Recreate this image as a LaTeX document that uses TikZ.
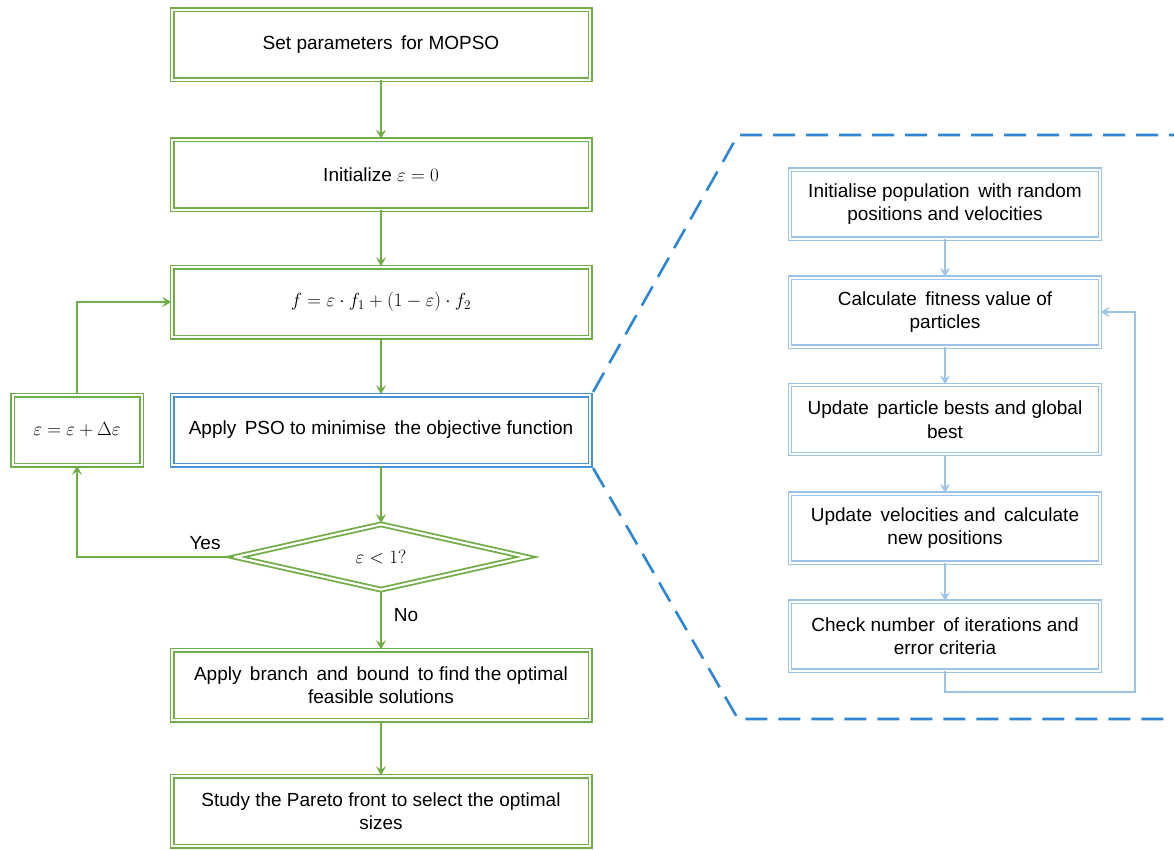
\RequirePackage{fix-cm}
\documentclass[tikz,border=0pt]{standalone}
\usepackage{fontspec}
\setmainfont{Liberation Sans}
\usetikzlibrary{arrows.meta,shapes.geometric}
\definecolor{gr}{RGB}{112,173,71}
\definecolor{bl}{RGB}{74,146,214}
\definecolor{lbl}{RGB}{157,195,230}
\definecolor{dsh}{RGB}{46,134,212}
\tikzset{
  txt/.style={font=\fontsize{19}{23.5}\selectfont},
  gbox/.style={draw=gr,double=white,line width=1.5pt,double distance=2pt,rectangle,minimum width=418pt,minimum height=70pt,align=center,inner sep=0pt,txt},
  bbox/.style={gbox,draw=bl},
  rbox/.style={draw=lbl,double=white,line width=1.3pt,double distance=2pt,rectangle,minimum width=310pt,minimum height=69pt,align=center,inner sep=0pt,txt},
  gdia/.style={draw=gr,double=white,line width=1.8pt,double distance=2.2pt,diamond,minimum width=292pt,minimum height=66pt,inner sep=0pt,txt},
  garrow/.style={draw=gr,line width=2pt,-{Stealth[length=9pt,width=10pt,inset=3.5pt]}},
  barrow/.style={draw=lbl,line width=2pt,-{Stealth[length=9pt,width=10pt,inset=3.5pt]}},
  dashline/.style={draw=dsh,line width=2.6pt,dash pattern=on 22pt off 11pt},
  lab/.style={txt,inner sep=0pt}
}
\begin{document}
\begin{tikzpicture}[x=1pt,y=-1pt]
\useasboundingbox (0,0) rectangle (1174,849);
% left column
\node[gbox] (set) at (381,44.5) {Set parameters\, for MOPSO};
\node[gbox] (init) at (381,174.5) {Initialize $\varepsilon = 0$};
\node[gbox] (f) at (381,302) {$f = \varepsilon\cdot f_1 + (1-\varepsilon)\cdot f_2$};
\node[bbox] (pso) at (381,430) {Apply\, PSO to minimise\, the objective function};
\node[gbox,minimum width=129pt] (eps) at (77,430) {$\varepsilon = \varepsilon + \Delta\varepsilon$};
\node[gdia] (dia) at (381,557) {$\varepsilon < 1?$};
\node[gbox] (bb) at (381,685) {Apply\, branch\, and\, bound\, to find the optimal\\feasible solutions};
\node[gbox] (study) at (381,811) {Study the Pareto front to select the optimal\\sizes};
\draw[garrow] (set) -- (init);
\draw[garrow] (init) -- (f);
\draw[garrow] (f) -- (pso);
\draw[garrow] (pso) -- (dia);
\draw[garrow] (dia) -- (bb);
\draw[garrow] (bb) -- (study);
\draw[garrow] (eps.north) |- (f.west);
\draw[garrow] (dia.west) -| (eps.south);
\node[lab] (yes) at (205,543) {Yes};
\node[lab] (no) at (406,615) {No};
% right column
\node[rbox] (r1) at (945,204) {Initialise population\, with random\\positions and velocities};
\node[rbox] (r2) at (945,312) {Calculate\, fitness value of\\particles};
\node[rbox] (r3) at (945,419.5) {Update\, particle bests and global\\best};
\node[rbox] (r4) at (945,528) {Update\, velocities and\, calculate\\new positions};
\node[rbox] (r5) at (945,636) {Check number\, of iterations and\\error criteria};
\draw[barrow] (r1) -- (r2);
\draw[barrow] (r2) -- (r3);
\draw[barrow] (r3) -- (r4);
\draw[barrow] (r4) -- (r5);
\coordinate (lc) at (1135,692);
\draw[barrow] (r5.south) |- (lc) |- (r2.east);
% dashed zoom outline
\coordinate (dt) at (738,135);
\coordinate (dte) at (1174,135);
\coordinate (db) at (738,719);
\coordinate (dbe) at (1174,719);
\draw[dashline] ([shift={(2.4,-2.4)}]pso.north east) -- (dt) -- (dte);
\draw[dashline] ([shift={(2.4,2.4)}]pso.south east) -- (db) -- (dbe);
\end{tikzpicture}
\end{document}
